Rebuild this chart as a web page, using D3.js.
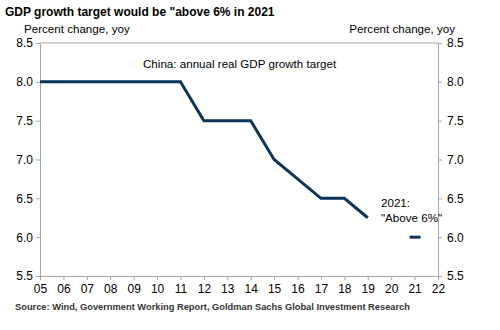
<!DOCTYPE html>
<html><head><meta charset="utf-8">
<script src="https://cdn.jsdelivr.net/npm/d3@7/dist/d3.min.js"></script>
<style>body{margin:0;background:#fff;} text{font-family:"Liberation Sans",Arial,sans-serif;}</style>
</head><body>
<svg id="c" width="500" height="330"></svg>
<script>
const years = [2005,2006,2007,2008,2009,2010,2011,2012,2013,2014,2015,2016,2017,2018,2019];
const targets = [8.0,8.0,8.0,8.0,8.0,8.0,8.0,7.5,7.5,7.5,7.0,6.75,6.5,6.5,6.25];
const target2021 = [{year:2021, value:6.0}];
const xTickYears = d3.range(2005, 2023);
const yTicks = [5.5,6.0,6.5,7.0,7.5,8.0,8.5];

const svg = d3.select("#c");
const L = 40, R = 438, T = 43, B = 276;
const x = d3.scaleLinear().domain([2005, 2022]).range([L, R]);
const y = d3.scaleLinear().domain([5.5, 8.5]).range([B, T]);
const grey = "#a6a6a6";

svg.append("line").attr("x1", L).attr("x2", R).attr("y1", T).attr("y2", T).attr("stroke", grey);

const fmt = d3.format(".1f");
const ya = svg.append("g").attr("transform", `translate(${L},0)`)
  .call(d3.axisLeft(y).tickValues(yTicks).tickFormat(fmt).tickSize(4).tickSizeOuter(0));
const yb = svg.append("g").attr("transform", `translate(${R},0)`)
  .call(d3.axisRight(y).tickValues(yTicks).tickFormat(fmt).tickSize(4).tickSizeOuter(0));
const xa = svg.append("g").attr("transform", `translate(0,${B})`)
  .call(d3.axisBottom(x).tickValues(xTickYears).tickFormat(d => String(d % 100).padStart(2, "0")).tickSize(4).tickSizeOuter(0));

[ya, yb, xa].forEach(g => {
  g.select(".domain").attr("stroke", grey);
  g.selectAll(".tick line").attr("stroke", grey);
  g.selectAll(".tick text").attr("fill", "#000").style("font-size", "12px").style("font-family", '"Liberation Sans",Arial,sans-serif');
});
ya.selectAll(".tick text").attr("x", -7);
yb.selectAll(".tick text").attr("x", 9);
xa.selectAll(".tick text").attr("y", 8);

const line = d3.line().x((d, i) => x(years[i])).y(d => y(d));
svg.append("path").datum(targets).attr("d", line)
  .attr("fill", "none").attr("stroke", "#0c3558").attr("stroke-width", 3).attr("stroke-linejoin", "miter");

svg.selectAll(".dash").data(target2021).enter().append("line")
  .attr("x1", d => x(d.year) - 5).attr("x2", d => x(d.year) + 6)
  .attr("y1", d => y(d.value)).attr("y2", d => y(d.value))
  .attr("stroke", "#0c3558").attr("stroke-width", 3);

svg.append("text").attr("x", 5).attr("y", 16).text('GDP growth target would be "above 6% in 2021')
  .style("font-size", "12px").style("font-weight", "bold").attr("fill", "#000");
svg.append("text").attr("x", 24).attr("y", 33).text("Percent change, yoy").style("font-size", "11.6px");
svg.append("text").attr("x", 455).attr("y", 33).attr("text-anchor", "end").text("Percent change, yoy").style("font-size", "11.6px");
svg.append("text").attr("x", 143).attr("y", 68).text("China: annual real GDP growth target").style("font-size", "11.6px");
svg.append("text").attr("x", 381).attr("y", 207).text("2021:").style("font-size", "11.6px");
svg.append("text").attr("x", 381).attr("y", 222).text('"Above 6%"').style("font-size", "11.6px");
svg.append("text").attr("x", 15).attr("y", 310).text("Source: Wind, Government Working Report, Goldman Sachs Global Investment Research")
  .style("font-size", "9.3px").style("font-weight", "bold").attr("fill", "#333");
</script>
</body></html>
